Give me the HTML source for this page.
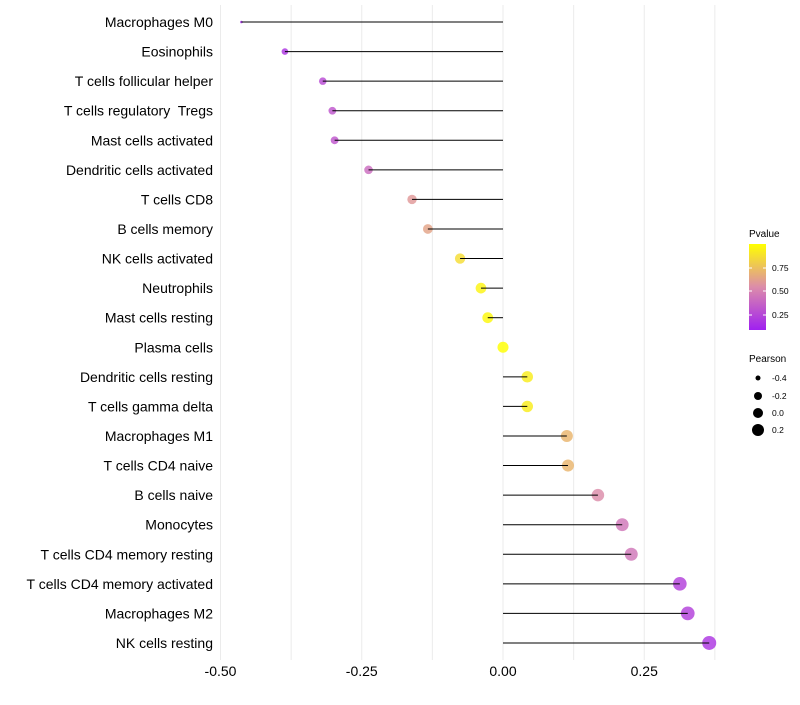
<!DOCTYPE html>
<html><head><meta charset="utf-8"><style>
body{margin:0;background:#fff;font-family:"Liberation Sans",sans-serif}
</style></head><body>
<svg id="c" width="800" height="700" xmlns="http://www.w3.org/2000/svg" font-family="Liberation Sans, sans-serif"></svg>
<script>
const categories=["Macrophages M0","Eosinophils","T cells follicular helper","T cells regulatory  Tregs","Mast cells activated","Dendritic cells activated","T cells CD8","B cells memory","NK cells activated","Neutrophils","Mast cells resting","Plasma cells","Dendritic cells resting","T cells gamma delta","Macrophages M1","T cells CD4 naive","B cells naive","Monocytes","T cells CD4 memory resting","T cells CD4 memory activated","Macrophages M2","NK cells resting"];
const pearson=[-0.463,-0.386,-0.319,-0.302,-0.298,-0.238,-0.161,-0.133,-0.076,-0.039,-0.027,0.0,0.043,0.043,0.113,0.115,0.168,0.211,0.227,0.313,0.327,0.365];
const pvalue=[0.03,0.1,0.2,0.25,0.25,0.35,0.55,0.6,0.85,0.95,0.97,1.0,0.92,0.92,0.68,0.68,0.5,0.4,0.4,0.15,0.15,0.1];
const xTicks=[-0.5,-0.25,0,0.25];
const xTickLabels=["-0.50","-0.25","0.00","0.25"];
const xMinor=[-0.375,-0.125,0.125,0.375];
const svg=document.getElementById('c');
const NS="http://www.w3.org/2000/svg";
const x=v=>503+v*565;
const y=i=>22+i*29.57;
function mk(t,a,p){const e=document.createElementNS(NS,t);for(const k in a)e.setAttribute(k,a[k]);(p||svg).appendChild(e);return e;}
function col(p){const lo=[160,32,240],hi=[255,255,0];const mid=[220,140,170];let c;
 if(p<0.5){const t=p/0.5;c=lo.map((v,i)=>v+(mid[i]-v)*t);}else{const t=(p-0.5)/0.5;c=mid.map((v,i)=>v+(hi[i]-v)*t);}
 return `rgb(${c.map(Math.round).join(',')})`;}
const rad=v=>v<-0.386?Math.max(1.2,1.3+(v+0.463)/0.077*2):Math.sqrt(10.9+50.7*(v+0.386));
xMinor.concat(xTicks).forEach(v=>{const g=mk('line',{x1:x(v),x2:x(v),y1:5,y2:660,stroke:'#ebebeb','stroke-width':1});

});
xTicks.forEach((v,i)=>{const t=mk('text',{x:x(v),y:676,'text-anchor':'middle','font-size':14,fill:'#000'});t.textContent=xTickLabels[i];

});
categories.forEach((c,i)=>{
 const t=mk('text',{x:213,y:y(i)+5,'text-anchor':'end','font-size':14,fill:'#000','xml:space':'preserve'});t.textContent=c;
 t.style.whiteSpace='pre';
 
 
 const d=mk('circle',{cx:x(pearson[i]),cy:y(i),r:rad(pearson[i]),fill:col(pvalue[i]),'fill-opacity':0.82});
 
 
 const l=mk('line',{x1:x(0),x2:x(pearson[i]),y1:y(i),y2:y(i),stroke:'#000','stroke-width':1});
 
 
});
const g=mk('g',{});


const lt=mk('text',{x:749,y:237,'font-size':10},g);lt.textContent='Pvalue';
const defs=mk('defs',{});const lg=mk('linearGradient',{id:'pg',x1:0,y1:1,x2:0,y2:0},defs);
[[0,0.0],[0.5,0.5],[1,1]].forEach(s=>mk('stop',{offset:s[0],'stop-color':col(s[1])},lg));
const cb=mk('rect',{x:749,y:244,width:17,height:86,fill:'url(#pg)'},g);


[[0.75,268],[0.5,291],[0.25,315]].forEach(a=>{mk('line',{x1:749,x2:752,y1:a[1],y2:a[1],stroke:'#fff'},g);mk('line',{x1:763,x2:766,y1:a[1],y2:a[1],stroke:'#fff'},g);
const t=mk('text',{x:772,y:a[1]+3,'font-size':8.5},g);t.textContent=a[0].toFixed(2);});
const pt=mk('text',{x:749,y:362,'font-size':10},g);pt.textContent='Pearson';
[[2.5,378],[4,396],[5,413],[6,430]].forEach((a,i)=>{mk('circle',{cx:758,cy:a[1],r:a[0],fill:'#000'},g);
const t=mk('text',{x:772,y:a[1]+3,'font-size':8.5},g);t.textContent=["-0.4","-0.2","0.0","0.2"][i];});
</script>
</body></html>
